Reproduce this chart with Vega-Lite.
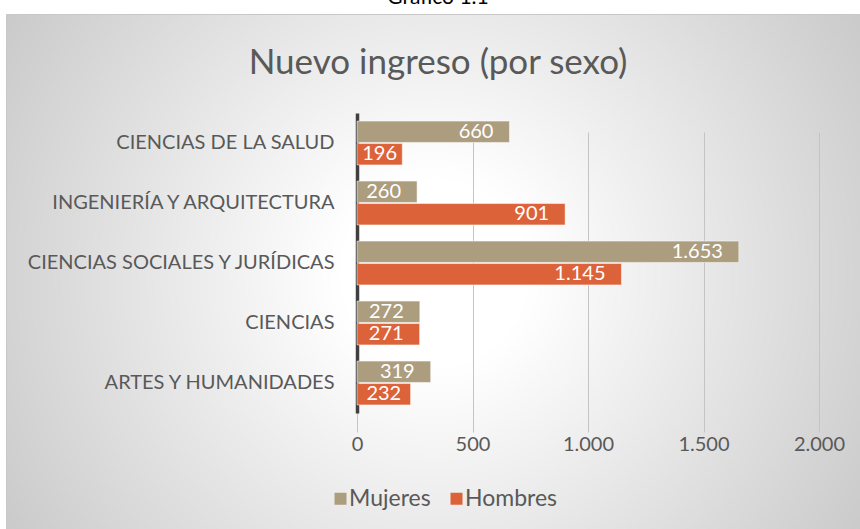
{
  "$schema": "https://vega.github.io/schema/vega-lite/v6.json",
  "width": 856,
  "height": 517,
  "autosize": {"type": "none"},
  "padding": {"left": 6, "top": 14, "right": 0, "bottom": 0},
  "background": "#ffffff",
  "title": {
    "text": "Gráfico 1.1",
    "subtitle": "Nuevo ingreso (por sexo)",
    "anchor": "middle",
    "orient": "top",
    "offset": -67,
    "subtitlePadding": 38,
    "font": "Lato",
    "fontSize": 21,
    "fontWeight": "normal",
    "color": "#000000",
    "subtitleFont": "Lato",
    "subtitleFontSize": 35,
    "subtitleColor": "#595959",
    "dx": 4
  },
  "config": {
    "view": {
      "fill": {
        "gradient": "radial",
        "x1": 0.5, "y1": 0.5, "r1": 0,
        "x2": 0.5, "y2": 0.5, "r2": 0.6,
        "stops": [
          {"offset": 0, "color": "#ffffff"},
          {"offset": 0.18, "color": "#ffffff"},
          {"offset": 1, "color": "#c8c8c8"}
        ]
      },
      "stroke": "#c8c8c8",
      "strokeWidth": 1
    },
    "font": "Lato"
  },
  "data": {
    "values": [
      {"area": "CIENCIAS DE LA SALUD", "sexo": "Mujeres", "valor": 660, "etiqueta": "660"},
      {"area": "CIENCIAS DE LA SALUD", "sexo": "Hombres", "valor": 196, "etiqueta": "196"},
      {"area": "INGENIERÍA Y ARQUITECTURA", "sexo": "Mujeres", "valor": 260, "etiqueta": "260"},
      {"area": "INGENIERÍA Y ARQUITECTURA", "sexo": "Hombres", "valor": 901, "etiqueta": "901"},
      {"area": "CIENCIAS SOCIALES Y JURÍDICAS", "sexo": "Mujeres", "valor": 1653, "etiqueta": "1.653"},
      {"area": "CIENCIAS SOCIALES Y JURÍDICAS", "sexo": "Hombres", "valor": 1145, "etiqueta": "1.145"},
      {"area": "CIENCIAS", "sexo": "Mujeres", "valor": 272, "etiqueta": "272"},
      {"area": "CIENCIAS", "sexo": "Hombres", "valor": 271, "etiqueta": "271"},
      {"area": "ARTES Y HUMANIDADES", "sexo": "Mujeres", "valor": 319, "etiqueta": "319"},
      {"area": "ARTES Y HUMANIDADES", "sexo": "Hombres", "valor": 232, "etiqueta": "232"}
    ]
  },
  "encoding": {
    "y": {
      "field": "area",
      "type": "nominal",
      "sort": ["CIENCIAS DE LA SALUD", "INGENIERÍA Y ARQUITECTURA", "CIENCIAS SOCIALES Y JURÍDICAS", "CIENCIAS", "ARTES Y HUMANIDADES"],
      "scale": {"range": [99, 399], "paddingInner": 0.27, "paddingOuter": 0.135},
      "axis": {
        "title": null,
        "orient": "left",
        "offset": -351,
        "domainColor": "#404040",
        "domainWidth": 3.5,
        "ticks": false,
        "labelPadding": 23,
        "labelFontSize": 20,
        "labelLimit": 500,
        "labelColor": "#595959",
        "labelFont": "Lato"
      }
    },
    "yOffset": {
      "field": "sexo",
      "type": "nominal",
      "sort": ["Mujeres", "Hombres"],
      "scale": {"paddingInner": 0.05}
    }
  },
  "layer": [
    {
      "mark": {"type": "bar", "stroke": "#ffffff", "strokeOpacity": 0.5, "strokeWidth": 1},
      "encoding": {
        "x": {
          "field": "valor",
          "type": "quantitative",
          "scale": {"domain": [0, 2000], "range": [351, 813], "nice": false, "zero": true},
          "axis": {
            "title": null,
            "orient": "bottom",
            "offset": -116,
            "values": [0, 500, 1000, 1500, 2000],
            "labelExpr": "replace(format(datum.value, ',d'), ',', '.')",
            "labelFlush": false,
            "labelOverlap": false,
            "domain": false,
            "ticks": false,
            "grid": true,
            "gridColor": "#c4c4c4",
            "gridWidth": 1,
            "labelPadding": 19,
            "labelFontSize": 20,
            "labelColor": "#595959",
            "labelFont": "Lato"
          }
        },
        "color": {
          "field": "sexo",
          "type": "nominal",
          "sort": ["Mujeres", "Hombres"],
          "scale": {"domain": ["Mujeres", "Hombres"], "range": ["#AD9D7F", "#DC6239"]},
          "legend": {
            "title": null,
            "orient": "none",
            "direction": "horizontal",
            "legendX": 323,
            "legendY": 473,
            "symbolType": "square",
            "symbolSize": 144,
            "symbolStrokeWidth": 0,
            "labelFontSize": 23,
            "labelOffset": -3,
            "labelColor": "#595959",
            "labelFont": "Lato",
            "columnPadding": 14
          }
        }
      }
    },
    {
      "transform": [{"filter": "datum.valor >= 250"}],
      "mark": {"type": "text", "align": "right", "baseline": "middle", "dx": -16, "color": "#ffffff", "fontSize": 20, "font": "Lato"},
      "encoding": {
        "x": {"field": "valor", "type": "quantitative"},
        "text": {"field": "etiqueta", "type": "nominal"}
      }
    },
    {
      "transform": [{"filter": "datum.valor < 250"}],
      "mark": {"type": "text", "align": "center", "baseline": "middle", "color": "#ffffff", "fontSize": 20, "font": "Lato"},
      "encoding": {
        "x": {"field": "valor", "type": "quantitative", "stack": "zero", "bandPosition": 0.5},
        "text": {"field": "etiqueta", "type": "nominal"}
      }
    }
  ]
}
